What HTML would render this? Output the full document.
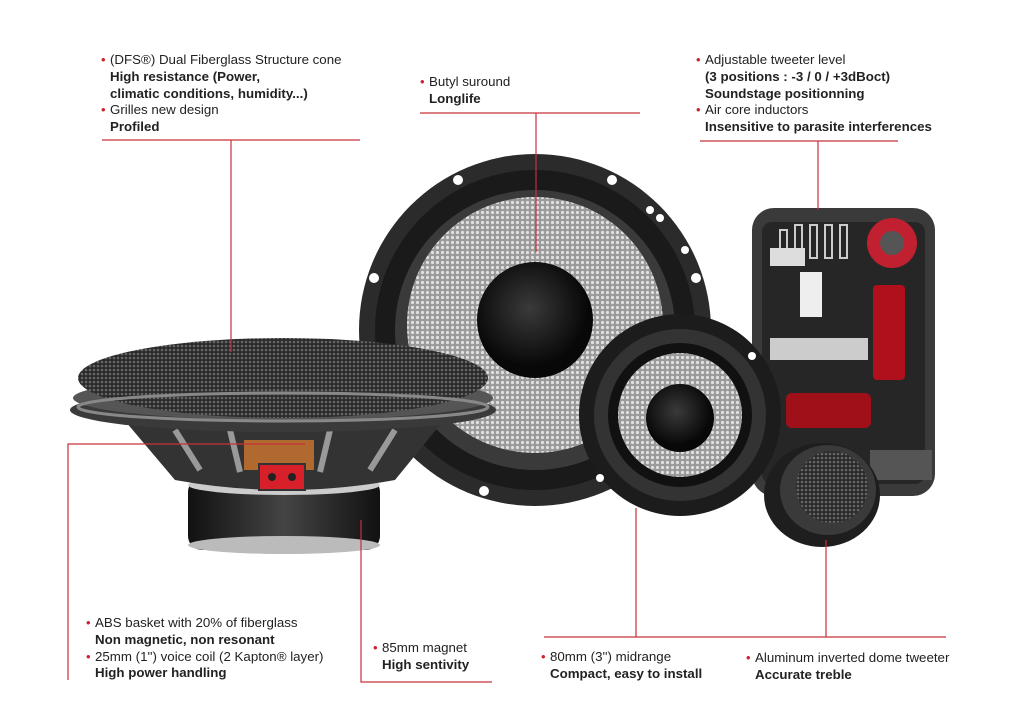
<!DOCTYPE html>
<html><head><meta charset="utf-8"><style>
html,body{margin:0;padding:0;background:#fff}
#w{position:relative;width:1023px;height:716px;overflow:hidden;background:#fff;font-family:"Liberation Sans",sans-serif;color:#222}
svg{position:absolute;left:0;top:0}
.t{position:absolute;font-size:13.3px;line-height:16.8px;white-space:nowrap}
.t b{font-weight:bold}
.d{color:#d0202a;font-size:13px;position:absolute;margin-left:-9px}
</style></head><body><div id="w">
<svg width="1023" height="716" viewBox="0 0 1023 716">
<defs>
<pattern id="mesh" width="5" height="5" patternUnits="userSpaceOnUse"><rect width="5" height="5" fill="#9a9a9a"/><circle cx="2.5" cy="2.5" r="1.6" fill="#e0e0e0"/></pattern>
<pattern id="meshd" width="4" height="4" patternUnits="userSpaceOnUse"><rect width="4" height="4" fill="#2a2a2a"/><circle cx="2" cy="2" r="1.3" fill="#666"/></pattern>
<radialGradient id="cone" cx="45%" cy="40%"><stop offset="0" stop-color="#3a3a3a"/><stop offset="1" stop-color="#080808"/></radialGradient>
<linearGradient id="mag" x1="0" x2="1"><stop offset="0" stop-color="#111"/><stop offset=".5" stop-color="#444"/><stop offset="1" stop-color="#111"/></linearGradient>
</defs>
<circle cx="535" cy="330" r="176" fill="#2b2b2b"/>
<circle cx="535" cy="330" r="160" fill="#1a1a1a"/>
<circle cx="535" cy="330" r="140" fill="#3a3a3a"/>
<circle cx="535" cy="325" r="128" fill="url(#mesh)"/>
<circle cx="535" cy="320" r="58" fill="url(#cone)"/>
<g fill="#fff"><circle cx="458" cy="180" r="5"/><circle cx="612" cy="180" r="5"/><circle cx="374" cy="278" r="5"/><circle cx="696" cy="278" r="5"/><circle cx="484" cy="491" r="5"/><circle cx="650" cy="210" r="4"/><circle cx="660" cy="218" r="4"/><circle cx="685" cy="250" r="4"/></g>
<rect x="752" y="208" width="183" height="288" rx="22" fill="#3a3a3a"/>
<rect x="762" y="222" width="163" height="262" rx="10" fill="#262626"/>
<g fill="none" stroke="#ccc" stroke-width="2"><rect x="780" y="230" width="7" height="28"/><rect x="795" y="225" width="7" height="33"/><rect x="810" y="225" width="7" height="33"/><rect x="825" y="225" width="7" height="33"/><rect x="840" y="225" width="7" height="33"/></g>
<rect x="770" y="248" width="35" height="18" fill="#ddd"/>
<circle cx="892" cy="243" r="25" fill="#c02030"/><circle cx="892" cy="243" r="12" fill="#555"/>
<rect x="800" y="272" width="22" height="45" fill="#eee"/>
<rect x="770" y="338" width="98" height="22" fill="#ccc"/>
<rect x="873" y="285" width="32" height="95" rx="4" fill="#b0101c"/>
<rect x="786" y="393" width="85" height="35" rx="6" fill="#a01018"/>
<rect x="870" y="450" width="62" height="30" fill="#555"/>
<circle cx="680" cy="415" r="101" fill="#1c1c1c"/>
<circle cx="680" cy="415" r="86" fill="#333"/>
<circle cx="680" cy="415" r="72" fill="#111"/>
<circle cx="680" cy="415" r="62" fill="url(#mesh)"/>
<circle cx="680" cy="418" r="34" fill="url(#cone)"/>
<g fill="#fff"><circle cx="752" cy="356" r="4"/><circle cx="600" cy="478" r="4"/></g>
<ellipse cx="822" cy="495" rx="58" ry="52" fill="#1e1e1e"/>
<ellipse cx="828" cy="490" rx="48" ry="45" fill="#3a3a3a"/>
<circle cx="832" cy="487" r="36" fill="url(#meshd)"/>
<rect x="188" y="478" width="192" height="72" rx="14" fill="url(#mag)"/>
<ellipse cx="284" cy="485" rx="96" ry="10" fill="#ccc"/>
<ellipse cx="284" cy="545" rx="96" ry="9" fill="#bbb"/>
<path d="M120 415 L448 415 L395 480 Q284 500 175 480 Z" fill="#333"/>
<path d="M175 430 L200 470 M230 430 L240 472 M330 430 L320 472 M395 430 L370 470" stroke="#999" stroke-width="6"/>
<rect x="244" y="440" width="70" height="30" fill="#b06a30"/>
<rect x="259" y="464" width="46" height="26" fill="#d8202a" stroke="#333" stroke-width="2"/>
<circle cx="272" cy="477" r="4" fill="#222"/><circle cx="292" cy="477" r="4" fill="#222"/>
<ellipse cx="283" cy="410" rx="213" ry="22" fill="#3a3a3a"/>
<ellipse cx="283" cy="398" rx="210" ry="22" fill="#555"/>
<ellipse cx="283" cy="378" rx="205" ry="40" fill="url(#meshd)"/>
<ellipse cx="283" cy="407" rx="205" ry="14" fill="none" stroke="#888" stroke-width="3"/>
<g stroke="#c8303a" stroke-width="1.2" fill="none">
<path d="M102 140 H360 M231 140 V352"/>
<path d="M420 113 H640 M536 113 V252"/>
<path d="M700 141 H898 M818 141 V210"/>
<path d="M68 680 V444 H305"/>
<path d="M361 520 V682 H492"/>
<path d="M544 637 H946 M636 508 V637 M826 540 V637"/>
</g>
</svg>
<div class="t" style="left:110px;top:52px"><span class="d">•</span>(DFS®) Dual Fiberglass Structure cone<br><b>High resistance (Power,<br>climatic conditions, humidity...)</b><br><span class="d">•</span>Grilles new design<br><b>Profiled</b></div>
<div class="t" style="left:429px;top:74px"><span class="d">•</span>Butyl suround<br><b>Longlife</b></div>
<div class="t" style="left:705px;top:52px"><span class="d">•</span>Adjustable tweeter level<br><b>(3 positions : -3 / 0 / +3dBoct)<br>Soundstage positionning</b><br><span class="d">•</span>Air core inductors<br><b>Insensitive to parasite interferences</b></div>
<div class="t" style="left:95px;top:615px"><span class="d">•</span>ABS basket with 20% of fiberglass<br><b>Non magnetic, non resonant</b><br><span class="d">•</span>25mm (1'') voice coil (2 Kapton® layer)<br><b>High power handling</b></div>
<div class="t" style="left:382px;top:640px"><span class="d">•</span>85mm magnet<br><b>High sentivity</b></div>
<div class="t" style="left:550px;top:649px"><span class="d">•</span>80mm (3'') midrange<br><b>Compact, easy to install</b></div>
<div class="t" style="left:755px;top:650px"><span class="d">•</span>Aluminum inverted dome tweeter<br><b>Accurate treble</b></div>
</div></body></html>
